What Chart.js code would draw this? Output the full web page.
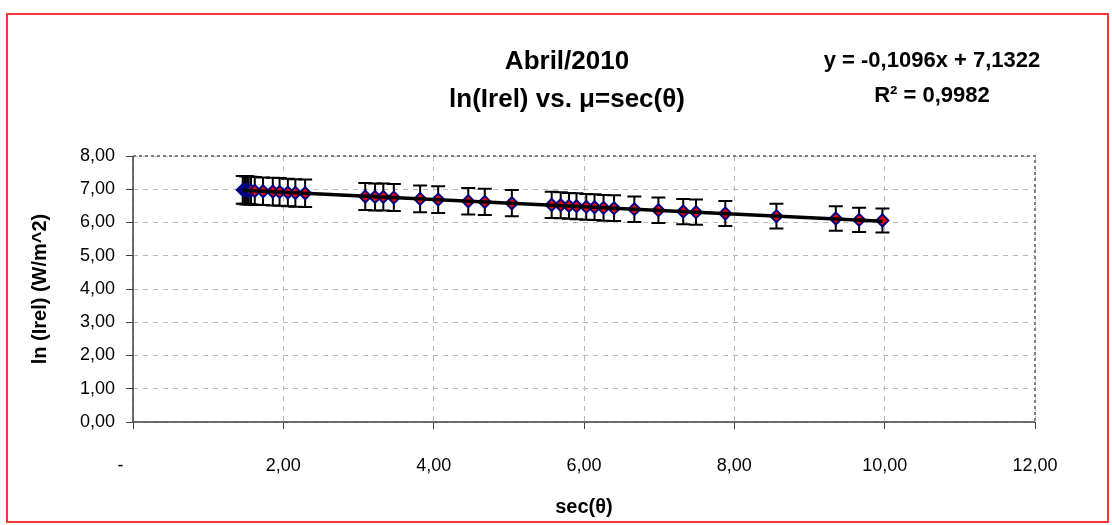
<!DOCTYPE html>
<html>
<head>
<meta charset="utf-8">
<script src="https://cdn.jsdelivr.net/npm/chart.js@4"></script>
<style>
html, body { margin: 0; padding: 0; background: #fff; }
#wrap { position: relative; width: 1112px; height: 525px; }
</style>
</head>
<body>
<div id="wrap"><canvas id="chart"></canvas></div>
<script>
// values
const secTheta = [1.46, 1.48, 1.50, 1.52, 1.54, 1.57, 1.62, 1.73, 1.86, 1.95, 2.06, 2.16, 2.29,
    3.09, 3.22, 3.33, 3.47, 3.82, 4.06, 4.46, 4.68, 5.04, 5.57, 5.69, 5.80, 5.90, 6.03,
    6.14, 6.26, 6.40, 6.67, 6.99, 7.32, 7.49, 7.88, 8.56, 9.35, 9.66, 9.97];
const lnIrel = [6.98, 6.98, 6.97, 6.97, 6.96, 6.96, 6.95, 6.94, 6.93, 6.92, 6.90, 6.89, 6.88,
    6.78, 6.77, 6.77, 6.75, 6.71, 6.69, 6.64, 6.62, 6.58, 6.53, 6.52, 6.50, 6.49, 6.47,
    6.46, 6.44, 6.43, 6.40, 6.37, 6.33, 6.31, 6.27, 6.19, 6.12, 6.08, 6.06];
const errPct = 0.06; // percentage error bars
const slope = -0.1096;
const intercept = 7.1322;
const xTicks = [0, 2, 4, 6, 8, 10, 12];
const yTicks = [0, 1, 2, 3, 4, 5, 6, 7, 8];
const titleLines = ["Abril/2010", "ln(Irel) vs. \u03BC=sec(\u03B8)"];
const eqLines = ["y = -0,1096x + 7,1322", "R\u00B2 = 0,9982"];

const FONT = "'Liberation Sans', Arial, Helvetica, sans-serif";
Chart.defaults.font.family = FONT;
Chart.defaults.color = "#000";

// excel accounting style: zero shown as a dash
const fmt = v => v === 0 ? "-     " : v.toFixed(2).replace(".", ",");

const xMin = Math.min(...secTheta), xMax = Math.max(...secTheta);
const trend = [xMin, xMax].map(x => ({ x: x, y: intercept + slope * x }));

const errorBars = {
    id: "errorBars",
    beforeDatasetsDraw(chart) {
        const { x, y } = chart.scales;
        const ctx = chart.ctx;
        ctx.save();
        ctx.strokeStyle = "#000";
        ctx.lineWidth = 2;
        secTheta.forEach((sx, i) => {
            const v = lnIrel[i], e = v * errPct;
            const px = x.getPixelForValue(sx);
            const top = y.getPixelForValue(v + e), bot = y.getPixelForValue(v - e);
            ctx.beginPath();
            ctx.moveTo(px, top); ctx.lineTo(px, bot);
            ctx.moveTo(px - 7, top); ctx.lineTo(px + 7, top);
            ctx.moveTo(px - 7, bot); ctx.lineTo(px + 7, bot);
            ctx.stroke();
        });
        ctx.restore();
    }
};

const frame = {
    id: "frame",
    beforeDatasetsDraw(chart) {
        const { left, right, top, bottom } = chart.chartArea;
        const ctx = chart.ctx;
        ctx.save();
        ctx.strokeStyle = "#808080";
        ctx.lineWidth = 2;
        ctx.setLineDash([3, 3]);
        ctx.beginPath();
        ctx.moveTo(left, top); ctx.lineTo(right, top); ctx.lineTo(right, bottom);
        ctx.stroke();
        // solid axis lines
        ctx.setLineDash([]);
        ctx.strokeStyle = "#404040";
        ctx.lineWidth = 1.5;
        ctx.beginPath();
        ctx.moveTo(left, top); ctx.lineTo(left, bottom); ctx.lineTo(right, bottom);
        ctx.stroke();
        ctx.restore();
    },
    afterDraw(chart) {
        const ctx = chart.ctx;
        ctx.save();
        // red outer border
        ctx.strokeStyle = "#ff3333";
        ctx.lineWidth = 2;
        ctx.strokeRect(7, 14, 1101, 508);
        // titles
        ctx.fillStyle = "#000";
        ctx.textAlign = "center";
        ctx.textBaseline = "middle";
        ctx.font = "bold 26px " + FONT;
        ctx.fillText(titleLines[0], 567, 62);
        ctx.fillText(titleLines[1], 567, 100);
        ctx.font = "bold 22px " + FONT;
        ctx.fillText(eqLines[0], 932, 61);
        ctx.fillText(eqLines[1], 932, 96);
        ctx.restore();
    }
};

const gridOpts = {
    color: "#b8b8b8",
    tickLength: 7,
    tickColor: "#404040",
    tickBorderDash: [],
};
const borderOpts = { display: false, dash: [5, 5] };

new Chart(document.getElementById("chart"), {
    type: "scatter",
    data: {
        datasets: [{
            type: "line",
            order: 0,
            data: trend,
            borderColor: "#000",
            borderWidth: 3.5,
            pointRadius: 0,
            fill: false,
        }, {
            order: 1,
            data: secTheta.map((x, i) => ({ x: x, y: lnIrel[i] })),
            pointStyle: "rectRot",
            pointRadius: 6,
            backgroundColor: "#ff0000",
            borderColor: "#000080",
            borderWidth: 2,
        }]
    },
    options: {
        responsive: true,
        maintainAspectRatio: false,
        animation: false,
        layout: { padding: { left: 14, top: 156, right: 77, bottom: 0 } },
        plugins: {
            legend: { display: false },
            tooltip: { enabled: false },
        },
        scales: {
            x: {
                type: "linear",
                min: 0,
                max: 12,
                afterBuildTicks: s => { s.ticks = xTicks.map(v => ({ value: v })); },
                afterFit: s => { s.height = 103; },
                ticks: { callback: fmt, padding: 26, font: { size: 18 }, maxRotation: 0 },
                grid: gridOpts,
                border: borderOpts,
                title: {
                    display: true,
                    text: "sec(\u03B8)",
                    font: { size: 20, weight: "bold" },
                    padding: { top: 0, bottom: 6 },
                },
            },
            y: {
                type: "linear",
                min: 0,
                max: 8,
                afterBuildTicks: s => { s.ticks = yTicks.map(v => ({ value: v })); },
                afterFit: s => { s.width = 119; },
                ticks: { callback: v => v.toFixed(2).replace(".", ","), padding: 11, font: { size: 18 } },
                grid: gridOpts,
                border: borderOpts,
                title: {
                    display: true,
                    text: "ln (Irel) (W/m^2)",
                    font: { size: 20, weight: "bold" },
                    padding: { top: 14, bottom: 0 },
                },
            }
        }
    },
    plugins: [errorBars, frame]
});
</script>
</body>
</html>
